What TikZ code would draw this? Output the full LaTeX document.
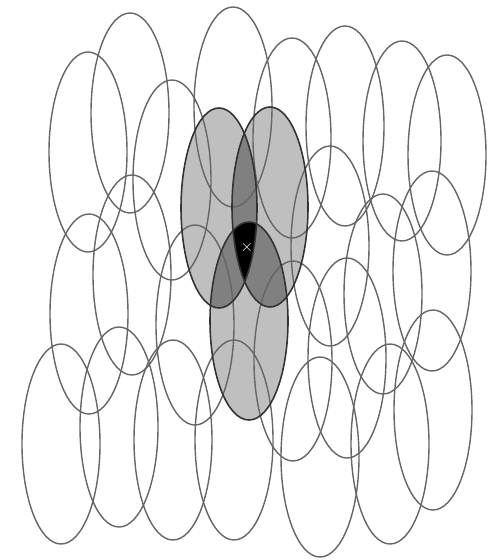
\documentclass[tikz,border=0pt]{standalone}
\begin{document}
\begin{tikzpicture}[x=0.02cm,y=-0.02cm,
  ell/.style={draw=black!60,line width=0.8pt},
  shell/.style={draw=black!80,line width=0.9pt}]
\useasboundingbox (0,0) rectangle (500,560);
% shaded central ellipses: A (219,208), B (270,207), C (249,321)
\def\EA{(219,208) ellipse [x radius=38,y radius=100]}
\def\EB{(270,207) ellipse [x radius=38,y radius=100]}
\def\EC{(249,321) ellipse [x radius=39,y radius=99]}
\fill[black!25] \EA; \fill[black!25] \EB; \fill[black!25] \EC;
\begin{scope}\clip \EA; \fill[black!50] \EB; \fill[black!50] \EC;\end{scope}
\begin{scope}\clip \EB; \fill[black!50] \EC;\end{scope}
\begin{scope}\clip \EA; \clip \EB; \fill[black] \EC;\end{scope}
% outline ellipses
\foreach \cx/\cy in {130/113, 88/152, 172/180, 233/107, 292/138, 345/126, 402/141, 447/155,
  330/246, 383/294, 432/271, 433/410, 390/444, 320/457, 293/361, 347/358,
  89/314, 132/275, 119/427, 61/444, 173/440, 195/325, 234/440}
  \draw[ell] (\cx,\cy) ellipse [x radius=39,y radius=100];
\draw[shell] \EA; \draw[shell] \EB; \draw[shell] \EC;
\node[text=white,font=\small\bfseries,inner sep=0pt] (x) at (247,248) {$\times$};
\end{tikzpicture}
\end{document}
